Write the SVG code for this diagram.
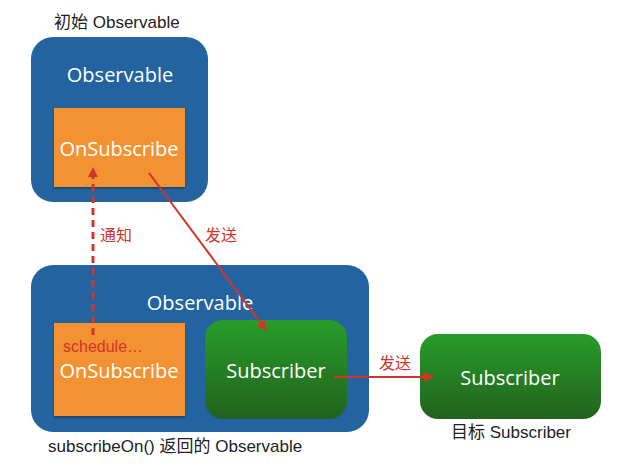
<svg xmlns="http://www.w3.org/2000/svg" width="625" height="464" viewBox="0 0 625 464">
<defs>
<linearGradient id="g" x1="0" y1="0" x2="0" y2="1"><stop offset="0" stop-color="#279c2a"/><stop offset="1" stop-color="#22621d"/></linearGradient>
<marker id="ah" viewBox="0 0 10 10" refX="9" refY="5" markerWidth="10" markerHeight="10" markerUnits="userSpaceOnUse" orient="auto"><path d="M0,0 L10,5 L0,10 z" fill="#d2342a"/></marker>
<filter id="sh" x="-10%" y="-10%" width="120%" height="120%"><feDropShadow dx="0" dy="1.5" stdDeviation="1" flood-color="#000" flood-opacity="0.35"/></filter>
</defs>
<style>
.blue{fill:#23639f}
.orange{fill:#f29232}
.green{fill:url(#g)}
.w{font-family:"Open Sans","Liberation Sans",Arial,sans-serif;fill:#fff;font-size:20px;text-anchor:middle}
.k{font-family:"Liberation Sans","Noto Sans CJK SC",sans-serif;fill:#222;font-size:17px}
.r{font-family:"Liberation Sans","Noto Sans CJK SC",sans-serif;fill:#d2342a;font-size:16px}
.ln{stroke:#d2342a;stroke-width:2;fill:none}
.dash{stroke-width:3;stroke-dasharray:7,5}
</style>
<rect width="625" height="464" fill="#fff"/>
<g id="top-observable">
<rect class="blue" x="31" y="37" width="177" height="165" rx="22"/>
<text class="w" x="120" y="82">Observable</text>
</g>
<g id="top-onsubscribe">
<rect class="orange" x="54" y="108" width="131" height="79" filter="url(#sh)"/>
<text class="w" x="119" y="156">OnSubscribe</text>
</g>
<text class="k" x="54" y="28">初始 Observable</text>
<g id="bottom-observable">
<rect class="blue" x="31" y="265" width="338" height="167" rx="22"/>
<text class="w" x="200" y="310">Observable</text>
</g>
<g id="bottom-onsubscribe">
<rect class="orange" x="54" y="323" width="131" height="93" filter="url(#sh)"/>
<text class="r" x="63" y="352">schedule…</text>
<text class="w" x="119" y="378">OnSubscribe</text>
</g>
<g id="inner-subscriber">
<rect class="green" x="205" y="320" width="142" height="99" rx="18"/>
<text class="w" x="276" y="378">Subscriber</text>
</g>
<g id="target-subscriber">
<rect class="green" x="420" y="334" width="181" height="85" rx="18"/>
<text class="w" x="510" y="385">Subscriber</text>
</g>
<text class="k" x="511" y="438" text-anchor="middle">目标 Subscriber</text>
<text class="k" x="48" y="452">subscribeOn() 返回的 Observable</text>
<g id="connectors">
<line class="ln dash" x1="93" y1="335" x2="93" y2="168" marker-end="url(#ah)"/>
<line class="ln" x1="149" y1="173" x2="266" y2="330" marker-end="url(#ah)"/>
<line class="ln" x1="334" y1="377" x2="433" y2="377" marker-end="url(#ah)"/>
<text class="r" x="100" y="241">通知</text>
<text class="r" x="205" y="241">发送</text>
<text class="r" x="379" y="369">发送</text>
</g>
</svg>
